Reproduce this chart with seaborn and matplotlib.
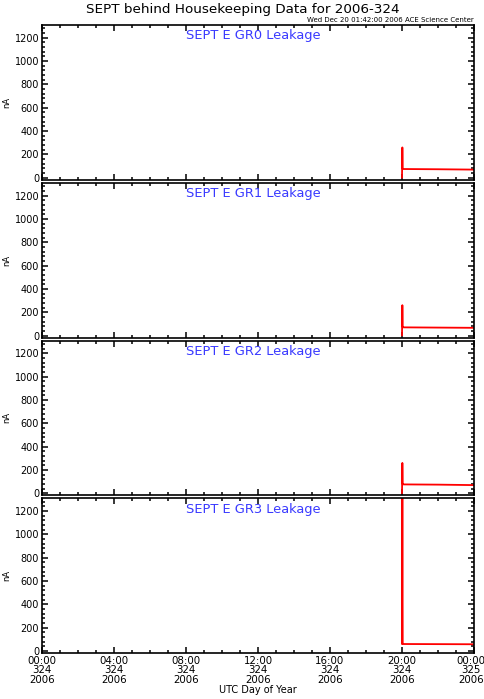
import numpy as np
import pandas as pd
import matplotlib
matplotlib.use('Agg')
import matplotlib.pyplot as plt
import matplotlib.transforms as mtransforms
import seaborn as sns
from matplotlib.ticker import MultipleLocator, FixedLocator

# hours since 00:00 on day 324; data only starts near 20:00
hours = [20.0, 20.02, 20.04, 20.08, 22.0, 24.0]
gr0 = [0, 260, 75, 75, 73, 70]
gr1 = [0, 260, 72, 70, 68, 66]
gr2 = [0, 260, 78, 76, 74, 70]
gr3 = [60, 1350, 60, 60, 59, 58]

channels = ['GR0', 'GR1', 'GR2', 'GR3']
series = [gr0, gr1, gr2, gr3]

tick_hours = [0, 4, 8, 12, 16, 20, 24]
tick_labels = ['00:00\n324\n2006', '04:00\n324\n2006', '08:00\n324\n2006',
               '12:00\n324\n2006', '16:00\n324\n2006', '20:00\n324\n2006',
               '00:00\n325\n2006']

sns.set_style('ticks')
plt.rcParams['font.family'] = ['DejaVu Sans']
plt.rcParams['text.color'] = 'black'
plt.rcParams['xtick.color'] = 'black'
plt.rcParams['ytick.color'] = 'black'
plt.rcParams['axes.edgecolor'] = 'black'
plt.rcParams['axes.labelcolor'] = 'black'

fig = plt.figure(figsize=(4.85, 6.99), dpi=100)
W, H = 485, 699
left, right = 42, 474
top, bottom = 25, 653
gap = 3
ph = (bottom - top - 3 * gap) / 4

for i, (ch, vals) in enumerate(zip(channels, series)):
    y0 = top + i * (ph + gap)
    ax = fig.add_axes([left / W, 1 - (y0 + ph) / H, (right - left) / W, ph / H])
    df = pd.DataFrame({'hour': hours, 'nA': vals})
    sns.lineplot(data=df, x='hour', y='nA', ax=ax, color='red', linewidth=1.3,
                 estimator=None, sort=False)
    ax.set_xlim(0, 24)
    ax.set_ylim(-17, 1310)
    ax.yaxis.set_major_locator(FixedLocator([0, 200, 400, 600, 800, 1000, 1200]))
    ax.yaxis.set_minor_locator(MultipleLocator(40))
    ax.xaxis.set_major_locator(FixedLocator(tick_hours))
    ax.xaxis.set_minor_locator(MultipleLocator(1))
    ax.tick_params(which='both', direction='in', top=True, right=True, width=1.1,
                   labelsize=7, pad=2)
    ax.tick_params(which='major', length=4.5)
    ax.tick_params(which='minor', length=2.5)
    for s in ax.spines.values():
        s.set_linewidth(1.2)
    ax.set_ylabel('nA', fontsize=6)
    ax.yaxis.set_label_coords((11 - left) / (right - left), 0.5)
    ax.set_xlabel('')
    ax.text(0.49, 0.93, 'SEPT E %s Leakage' % ch, transform=ax.transAxes,
            ha='center', va='center', color='#3a3aff', fontsize=9.4)
    if i < 3:
        ax.set_xticklabels([])
    else:
        ax.set_xticklabels(tick_labels, fontsize=7.4, linespacing=0.95)
        ax.tick_params(axis='x', pad=2)
        last = ax.get_xticklabels()[-1]
        last.set_transform(last.get_transform() +
                           mtransforms.ScaledTranslation(-0.03, 0, fig.dpi_scale_trans))
        ax.set_xlabel('UTC Day of Year', fontsize=7, labelpad=0)

fig.text(0.5, 1 - 9 / H, 'SEPT behind Housekeeping Data for 2006-324',
         ha='center', va='center', fontsize=9.7)
fig.text(right / W, 1 - 20 / H, 'Wed Dec 20 01:42:00 2006 ACE Science Center',
         ha='right', va='center', fontsize=5)

fig.savefig('out.png', dpi=100)
